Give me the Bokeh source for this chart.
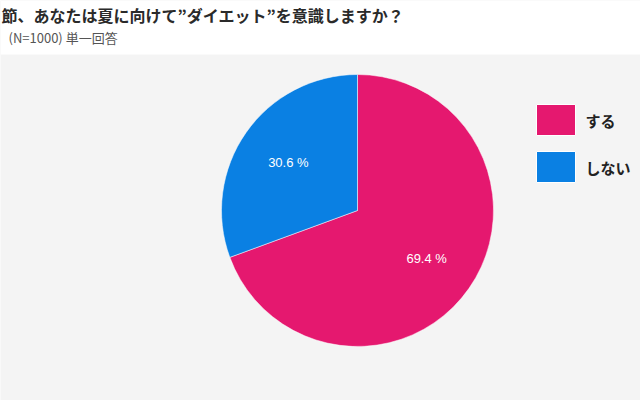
import math
from bokeh.plotting import figure
from bokeh.models import Range1d, BoxAnnotation, ColumnDataSource
from bokeh.core.properties import value
from bokeh.embed import file_html
from bokeh.resources import INLINE

title_text = "節、あなたは夏に向けて”ダイエット”を意識しますか？"
subtitle_text = "(N=1000) 単一回答"
categories = ["する", "しない"]
percents = [69.4, 30.6]
colors = ["#E5186F", "#0A80E3"]

W, H = 640, 400
p = figure(width=W, height=H, output_backend="svg", toolbar_location=None,
           x_range=Range1d(0, W), y_range=Range1d(0, H), min_border=0,
           background_fill_color="#F4F4F4", border_fill_color="#FFFFFF")
p.axis.visible = False
p.grid.visible = False
p.outline_line_color = None

# white header
p.add_layout(BoxAnnotation(bottom=H - 54, fill_color="#FFFFFF", fill_alpha=1,
                           line_alpha=0, level="underlay"))

# pie (clockwise from top)
cx, cy, r = 357, H - 210, 136
start, end, mids = [], [], []
a = math.pi / 2
for v in percents:
    sweep = v / 100 * 2 * math.pi
    start.append(a - sweep)
    end.append(a)
    mids.append(a - sweep / 2)
    a -= sweep
src = ColumnDataSource(dict(x=[cx] * len(categories), y=[cy] * len(categories),
                            start=start, end=end, color=colors))
p.wedge(x="x", y="y", radius=r, start_angle="start", end_angle="end",
        fill_color="color", line_color="#FFFFFF", line_width=0.5, source=src)

lab = ColumnDataSource(dict(
    x=[cx + 0.62 * r * math.cos(m) for m in mids],
    y=[cy + 0.62 * r * math.sin(m) for m in mids],
    t=[f"{v:.1f} %" for v in percents]))
p.text(x="x", y="y", text="t", source=lab, text_color="#FFFFFF",
       text_font=value("Liberation Sans"), text_font_size="13px",
       text_align="center", text_baseline="middle")

# legend
ly0 = H - 119.5
leg = ColumnDataSource(dict(
    x=[555.5] * len(categories),
    y=[ly0 - i * 47 for i in range(len(categories))],
    tx=[585] * len(categories),
    t=categories, color=colors))
p.rect(x="x", y="y", width=39, height=31, fill_color="color",
       line_color="#FFFFFF", line_width=1, source=leg)
p.text(x="tx", y="y", text="t", source=leg, text_color="#222222",
       text_font=value("Noto Sans CJK JP"), text_font_size="15px",
       text_font_style="bold", text_align="left", text_baseline="middle")

# titles
p.text(x=[1], y=[H - 14], text=[title_text], text_color="#2A2A2A",
       text_font=value("Noto Sans CJK JP"), text_font_size="16px",
       text_font_style="bold", text_align="left", text_baseline="middle")
p.text(x=[8], y=[H - 37], text=[subtitle_text], text_color="#555555",
       text_font=value("Noto Sans CJK JP"), text_font_size="13px",
       text_align="left", text_baseline="middle")

open("out.html", "w").write(file_html(p, INLINE))
